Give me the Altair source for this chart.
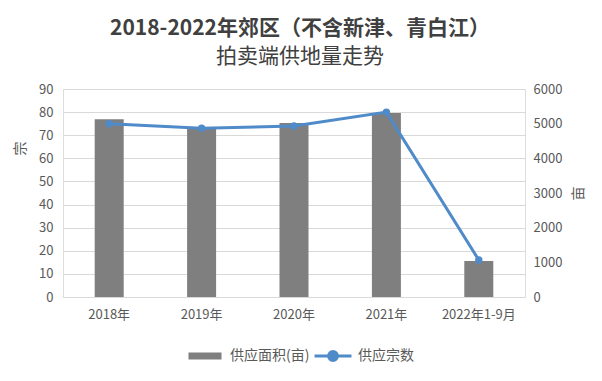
import altair as alt
import pandas as pd

years = ["2018年", "2019年", "2020年", "2021年", "2022年1-9月"]
area_mu = [5130, 4850, 5020, 5310, 1040]
count_zong = [75, 73, 74, 80, 16]

df = pd.DataFrame({"year": years, "area": area_mu, "count": count_zong,
                   "s1": "供应面积(亩)", "s2": "供应宗数"})

FONT = "Noto Sans CJK SC"
GRAY = "#7f7f7f"
BLUE = "#4f8bc9"
TXT = "#595959"

x = alt.X("year:N", sort=years, title=None,
          scale=alt.Scale(paddingInner=0.0, paddingOuter=0.0),
          axis=alt.Axis(labelAngle=0, domain=False, ticks=False, labelPadding=11,
                        labelFontSize=13, labelColor=TXT, labelFont=FONT, grid=False))

bars = alt.Chart(df).mark_bar(size=29, color=GRAY).encode(
    x=x,
    y=alt.Y("area:Q", title="亩", scale=alt.Scale(domain=[0, 6000]),
            axis=alt.Axis(orient="right", values=[0, 1000, 2000, 3000, 4000, 5000, 6000],
                          format="d",
                          grid=False, domain=False, ticks=False, labelPadding=8,
                          labelFontSize=13, labelColor=TXT, labelFont=FONT,
                          titleAngle=270, titleX=53, titleY=104, titleAlign="center",
                          titleBaseline="middle", titleFontSize=14, titleFontWeight="normal",
                          titleColor=TXT, titleFont=FONT)),
    color=alt.Color("s1:N", scale=alt.Scale(range=[GRAY]),
                    legend=alt.Legend(title=None, orient="none", legendX=135, legendY=260,
                                      symbolType="M-3,-0.65H3V0.65H-3Z", symbolSize=121,
                                      symbolStrokeWidth=0, labelOffset=18, padding=0,
                                      labelFontSize=14, labelColor=TXT, labelFont=FONT)),
)

line = alt.Chart(df).mark_line(color=BLUE, strokeWidth=3,
                               point=alt.OverlayMarkDef(filled=True, size=55, color=BLUE)).encode(
    x=x,
    y=alt.Y("count:Q", title="宗", scale=alt.Scale(domain=[0, 90]),
            axis=alt.Axis(orient="left", values=list(range(0, 91, 10)),
                          grid=True, gridColor="#d9d9d9", gridWidth=1,
                          domain=False, ticks=False, labelPadding=10,
                          labelFontSize=13, labelColor=TXT, labelFont=FONT,
                          titleAngle=270, titleX=-43, titleY=59, titleAlign="center",
                          titleBaseline="middle", titleFontSize=14, titleFontWeight="normal",
                          titleColor=TXT, titleFont=FONT)),
    color=alt.Color("s2:N", scale=alt.Scale(range=[BLUE]),
                    legend=alt.Legend(title=None, orient="none", legendX=263, legendY=260,
                                      symbolType="M-3.36,0H3.36M0.8,0A0.8,0.8 0 1,1 -0.8,0A0.8,0.8 0 1,1 0.8,0Z",
                                      symbolSize=121, symbolStrokeWidth=3,
                                      symbolFillColor=BLUE, labelOffset=18, padding=0,
                                      labelFontSize=14, labelColor=TXT, labelFont=FONT)),
)

chart = alt.layer(bars, line).resolve_scale(y="independent", color="independent").properties(
    width=462, height=208,
    autosize=alt.AutoSizeParams(type="none"),
    padding={"left": 55, "top": 81, "right": 69, "bottom": 76},
    title=alt.TitleParams(text="2018-2022年郊区（不含新津、青白江）",
                          subtitle="拍卖端供地量走势",
                          anchor="middle", dx=6, offset=16,
                          font=FONT, fontSize=21, fontWeight="bold", color="#404040",
                          subtitleFont=FONT, subtitleFontSize=21, subtitleFontWeight="normal",
                          subtitleColor="#404040", subtitlePadding=7),
).configure_view(stroke=None).configure(background="white")

chart.save("out.html", embed_options={"renderer": "svg", "actions": False})
